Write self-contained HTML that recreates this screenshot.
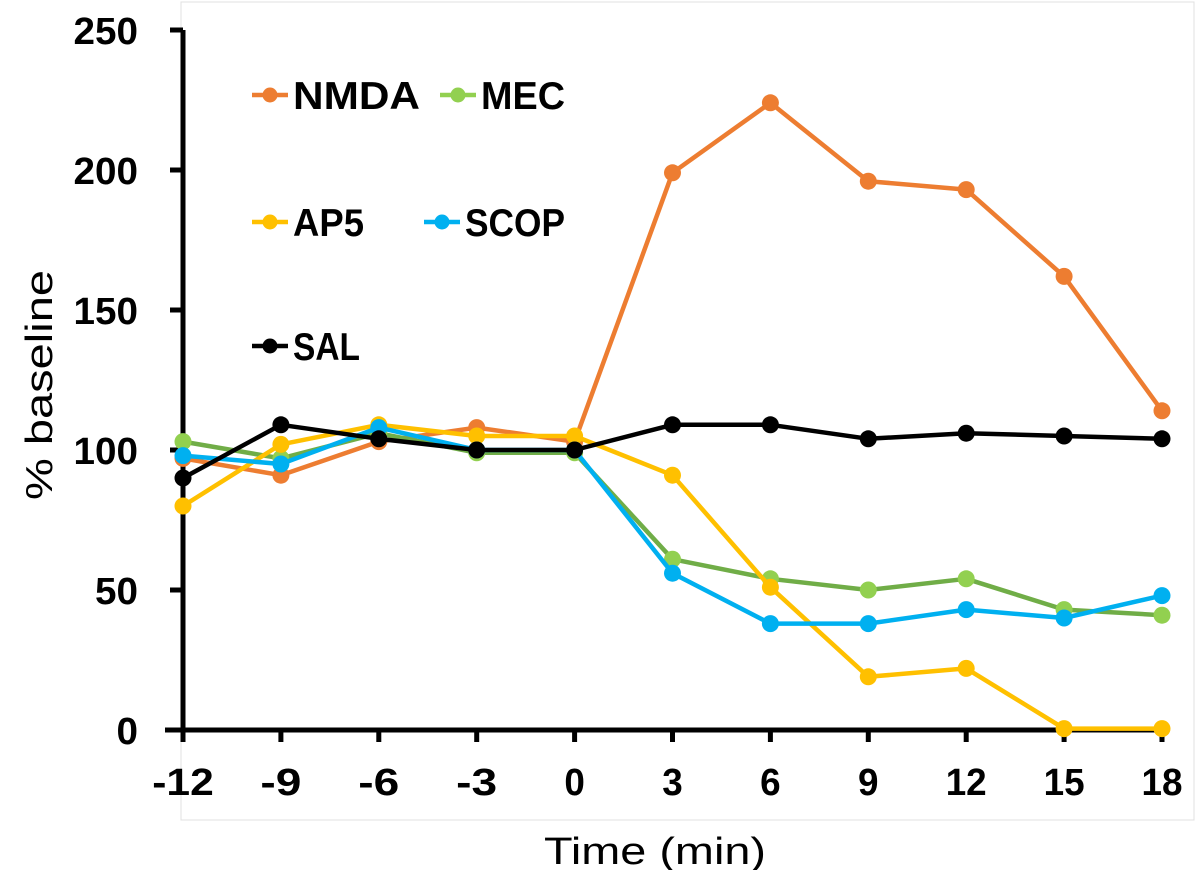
<!DOCTYPE html>
<html><head><meta charset="utf-8"><style>
body{margin:0;background:#fff;}
svg text{font-family:"Liberation Sans",sans-serif;}
</style></head><body>
<svg id="chart" width="1200" height="870">
<rect x="181" y="2" width="1013" height="818" fill="none" stroke="#e0e0e0" stroke-width="1"/>
<g id="axes"></g><g id="series"></g><g id="legend"></g>
<text x="52" y="385" font-size="38" text-anchor="middle" textLength="230" lengthAdjust="spacingAndGlyphs" transform="rotate(-90 52 385)">% baseline</text>
<text x="655" y="864" font-size="38" text-anchor="middle" textLength="222" lengthAdjust="spacingAndGlyphs">Time (min)</text>
</svg>
<script>
const categories=[-12,-9,-6,-3,0,3,6,9,12,15,18];
const nmda=[97,91,103,108,103,199,224,196,193,162,114];
const mec=[103,97,106,99,99,61,54,50,54,43,41];
const ap5=[80,102,109,105,105,91,51,19,22,0.5,0.5];
const scop=[98,95,108,100,100,56,38,38,43,40,48];
const sal=[90,109,104,100,100,109,109,104,106,105,104];
const yTicks=[0,50,100,150,200,250];
const NS="http://www.w3.org/2000/svg";
const x=v=>183+(v+12)*(979/30);
const y=v=>730-v*2.8;
function mk(t,a,p){const e=document.createElementNS(NS,t);for(const k in a)e.setAttribute(k,a[k]);p.appendChild(e);return e;}
const ax=document.getElementById('axes');
let e=mk('line',{x1:183,y1:y(250),x2:183,y2:730,stroke:'#000','stroke-width':5},ax);


e=mk('line',{x1:165,y1:730,x2:1165,y2:730,stroke:'#000','stroke-width':5},ax);


yTicks.forEach(t=>{
 mk('line',{x1:170,y1:y(t),x2:183,y2:y(t),stroke:'#000','stroke-width':5},ax);
 const s=String(t);
 const tx=mk('text',{x:138,y:y(t)+14,'font-size':38,'font-weight':'bold','text-anchor':'end',textLength:s.length*21.5,lengthAdjust:'spacingAndGlyphs'},ax);
 tx.textContent=s;
 
 
});
categories.forEach(c=>{
 mk('line',{x1:x(c),y1:730,x2:x(c),y2:742,stroke:'#000','stroke-width':5},ax);
 const s=String(c);
 const tx=mk('text',{x:x(c),y:795,'font-size':38,'font-weight':'bold','text-anchor':'middle',textLength:s.length*20.5,lengthAdjust:'spacingAndGlyphs'},ax);
 tx.textContent=s;
 
 
});
const S=[['nmda',nmda,'#ED7D31'],['mec',mec,'#70AD47'],['ap5',ap5,'#FFC000'],['scop',scop,'#00B0F0'],['sal',sal,'#000000']];
const mcol={mec:'#92D050'};
const sg=document.getElementById('series');
S.forEach(([n,d,c])=>{
 const g=mk('g',{},sg);
 
 
 const pl=mk('polyline',{points:d.map((v,i)=>x(categories[i])+','+y(v)).join(' '),fill:'none',stroke:c,'stroke-width':4.5,'stroke-linejoin':'round'},g);
 
 
 d.forEach((v,i)=>{
  const p=mk('circle',{cx:x(categories[i]),cy:y(v),r:8.5,fill:mcol[n]||c},g);
  
  
 });
});
const L=[['NMDA','#ED7D31',270,95,127],['MEC','#92D050',458,95,84],['AP5','#FFC000',270,222,71],['SCOP','#00B0F0',442,222,100],['SAL','#000000',270,346,67]];
const lg=document.getElementById('legend');
L.forEach(([t,c,lx,ly,w])=>{
 const g=mk('g',{},lg);
 
 
 mk('line',{x1:lx-18,y1:ly,x2:lx+18,y2:ly,stroke:c,'stroke-width':4.5},g);
 mk('circle',{cx:lx,cy:ly,r:7.5,fill:c},g);
 const tx=mk('text',{x:lx+23,y:ly+14,'font-size':39,'font-weight':'bold',textLength:w,lengthAdjust:'spacingAndGlyphs'},g);
 tx.textContent=t;
});
</script>
</body></html>
